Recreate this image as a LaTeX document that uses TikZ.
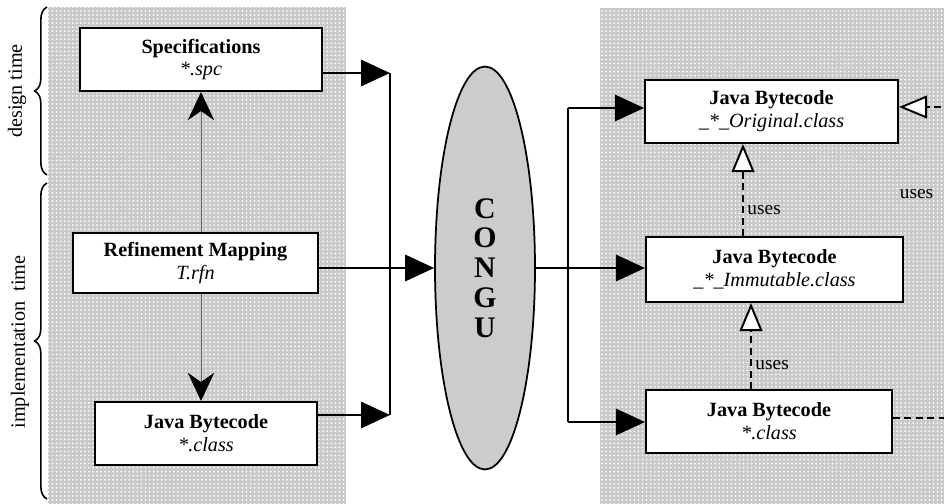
\documentclass[tikz,border=0pt]{standalone}
\usepackage{fontspec}
\setmainfont{Liberation Serif}
\usepackage{tikz}
\usetikzlibrary{
    arrows.meta,
    shapes.geometric,
    decorations.pathreplacing,
    patterns.meta
}
\tikzset{
    panel/.style={fill=gray!42},
    dotpanel/.style={pattern={Dots[distance=2.3pt,radius=0.55pt]},pattern color=white},
    box/.style={draw,line width=1.2pt,fill=white,inner sep=0pt,align=center,
        font=\fontsize{11.5}{13}\selectfont},
    flow/.style={line width=1.1pt,-{Triangle[length=16.5pt,width=15pt]}},
    link/.style={line width=1.1pt},
    refine/.style={draw=black!60,line width=0.5pt,-{Stealth[length=16pt,width=15pt,color=black]}},
    uses/.style={line width=1.1pt,dash pattern=on 4pt off 2.5pt,
        -{Triangle[length=16pt,width=13pt,fill=white]}},
    usetext/.style={font=\fontsize{11}{13}\selectfont,inner sep=2pt},
    timetext/.style={font=\fontsize{11.5}{13}\selectfont,inner sep=0pt,rotate=90},
    timebrace/.style={decorate,decoration={brace,amplitude=7pt},line width=0.9pt}
}

\begin{document}
\begin{tikzpicture}[x=0.02cm,y=-0.02cm]
        \clip (0,0) rectangle (944,504);
        % dotted background panels
        \fill[panel] (48,7) rectangle (346,510);
        \fill[dotpanel] (48,7) rectangle (346,510);
        \fill[panel] (600,8) rectangle (960,510);
        \fill[dotpanel] (600,8) rectangle (960,510);

        \draw[timebrace] (47,175) -- (47,7);
        \draw[timebrace] (47,499) -- (47,183);
        \draw (17,91) node[timetext](design){design time};
        \draw (20,342) node[timetext](impl){implementation\ \ time};

        \draw (201,59.5) node[box,minimum width=4.84cm,minimum height=1.26cm](spec)
            {\textbf{Specifications}\\\textit{*.spc}};
        \draw (195.5,263) node[box,minimum width=4.9cm,minimum height=1.2cm](rfn)
            {\textbf{Refinement Mapping}\\\textit{T.rfn}};
        \draw (206,433.5) node[box,minimum width=4.44cm,minimum height=1.26cm](jbl)
            {\textbf{Java Bytecode}\\\textit{*.class}};

        \draw (485,268) node[ellipse,draw,line width=1pt,fill=gray!40,minimum width=2cm,
            minimum height=8.06cm,inner sep=0pt,align=center,
            font=\fontsize{17}{17}\selectfont\bfseries](congu){C\\O\\N\\G\\U};

        \draw (771.5,111.5) node[box,minimum width=5.06cm,minimum height=1.26cm](orig)
            {\textbf{Java Bytecode}\\\textit{\_*\_Original.class}};
        \draw (774.5,269.5) node[box,minimum width=5.14cm,minimum height=1.3cm](imm)
            {\textbf{Java Bytecode}\\\textit{\_*\_Immutable.class}};
        \draw (769,421.5) node[box,minimum width=4.92cm,minimum height=1.26cm](cls)
            {\textbf{Java Bytecode}\\\textit{*.class}};

        \coordinate (jl1) at (390,73);
        \coordinate (jl2) at (390,415);
        \coordinate (jr1) at (568,108);
        \coordinate (jr2) at (568,422);
        \coordinate (eb) at (950,418);
        \coordinate (et) at (950,107);

        \draw[refine] (rfn.north -| spec.south) -- (spec.south);
        \draw[refine] (spec.south |- rfn.south) -- (spec.south |- jbl.north);

        \draw[flow] (spec.east |- jl1) -- (jl1);
        \draw[flow] (jbl.east |- jl2) -- (jl2);
        \draw[link] (jl1) -- (jl2);
        \draw[flow] (rfn.east |- congu.west) -- (congu.west);

        \draw[flow] (congu.east) -- (imm.west |- congu.east);
        \draw[link] (jr1) -- (jr2);
        \draw[flow] (jr1) -- (orig.west |- jr1);
        \draw[flow] (jr2) -- (cls.west |- jr2);

        \draw[uses] ([xshift=-0.63cm]imm.north) -- node[pos=0.28,right,usetext](uses1){uses}
            ([xshift=-0.63cm]imm.north |- orig.south);
        \draw[uses] ([xshift=-0.36cm]cls.north) -- node[pos=0.28,right,usetext](uses2){uses}
            ([xshift=-0.36cm]cls.north |- imm.south);
        \draw[uses] (cls.east |- eb) -- (eb) -- node[pos=0.72,left=7pt,usetext](uses3){uses}
            (et) -- (orig.east |- et);
    \end{tikzpicture}
\end{document}
